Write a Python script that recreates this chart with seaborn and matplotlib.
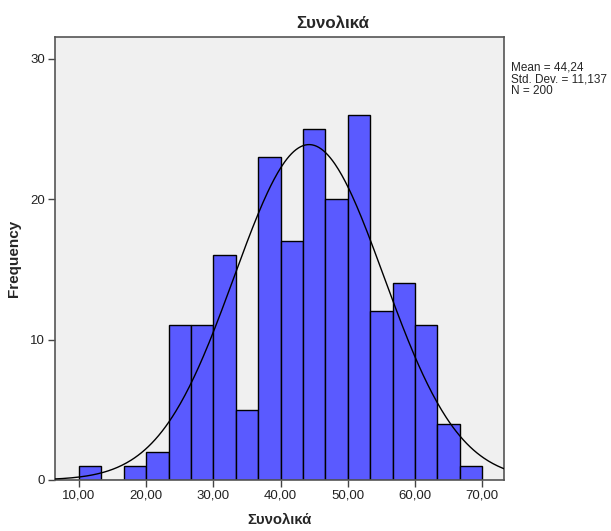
import numpy as np
import pandas as pd
import matplotlib
matplotlib.use("Agg")
import matplotlib.pyplot as plt
import seaborn as sns

# Data
bin_edges = [10 + i * 10 / 3 for i in range(19)]
counts = [1, 0, 1, 2, 11, 11, 16, 5, 23, 17, 25, 20, 26, 12, 14, 11, 4, 1]
mean_val = 44.24
std_val = 11.137
n_val = 200
x_ticks = [10, 20, 30, 40, 50, 60, 70]
x_tick_labels = ["10,00", "20,00", "30,00", "40,00", "50,00", "60,00", "70,00"]
y_ticks = [0, 10, 20, 30]

sns.set_style("white")
plt.rcParams['font.family'] = ['Liberation Sans', 'DejaVu Sans']

fig = plt.figure(figsize=(6.11, 5.31), dpi=100)
L, R, B, T = 55, 504, 480, 37
ax = fig.add_axes([L / 611, 1 - B / 531, (R - L) / 611, (B - T) / 531])
ax.set_facecolor("#F0F0F0")

centers = [(bin_edges[i] + bin_edges[i + 1]) / 2 for i in range(len(counts))]
df = pd.DataFrame({"x": centers, "w": counts})
sns.histplot(data=df, x="x", weights="w", bins=bin_edges, color="#5A5AFF",
             edgecolor="black", linewidth=1.0, alpha=1, ax=ax, zorder=2)

binw = bin_edges[1] - bin_edges[0]
xs = np.linspace(6.0, 74.0, 400)
ys = n_val * binw * np.exp(-0.5 * ((xs - mean_val) / std_val) ** 2) / (std_val * np.sqrt(2 * np.pi))
sns.lineplot(x=xs, y=ys, color="black", linewidth=1.0, ax=ax, zorder=3)

ax.set_xlim(6.43, 73.25)
ax.set_ylim(0, 31.54)
ax.set_xticks(x_ticks)
ax.set_xticklabels(x_tick_labels)
ax.set_yticks(y_ticks)
ax.tick_params(axis="both", direction="out", length=5, width=1, color="#444444",
               labelsize=9.5, pad=2, bottom=True, left=True, labelcolor="#222222")
for s in ax.spines.values():
    s.set_color("#555555")
    s.set_linewidth(1.2)

ax.set_xlabel("Συνολικά", fontsize=10.7, fontweight="bold")
ax.xaxis.set_label_coords(0.5, (B - 520) / (B - T))
ax.xaxis.label.set_verticalalignment("center")
ax.set_ylabel("Frequency", fontsize=11, fontweight="bold")
ax.yaxis.set_label_coords((14 - L) / (R - L), 0.5)
ax.yaxis.label.set_verticalalignment("center")

fig.text(333 / 611, 1 - 23 / 531, "Συνολικά", fontsize=12.2, fontweight="bold",
         ha="center", va="center")

fig.text(511 / 611, 1 - 61 / 531,
         "Mean = 44,24\nStd. Dev. = 11,137\nN = 200",
         fontsize=8.5, va="top", ha="left", linespacing=1.0)

fig.savefig("out.png", dpi=100, facecolor="white")
